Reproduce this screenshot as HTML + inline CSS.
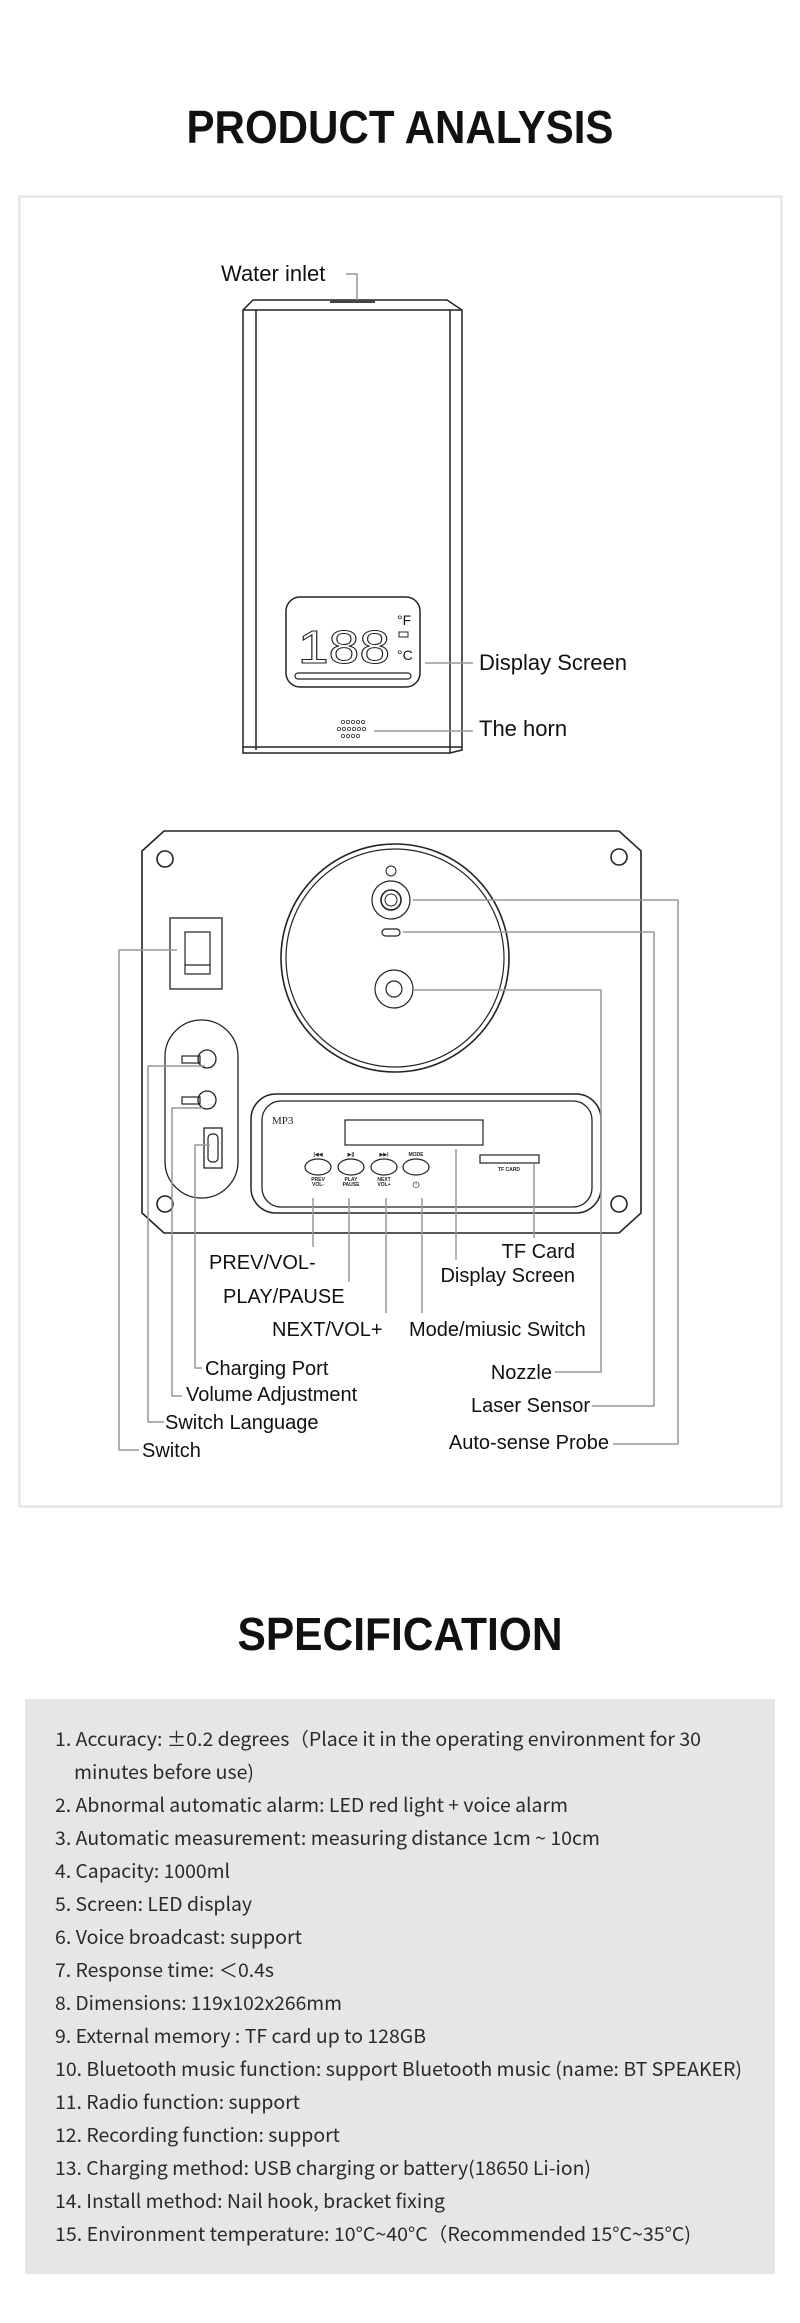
<!DOCTYPE html>
<html><head><meta charset="utf-8"><style>
html,body{margin:0;padding:0;background:#fff}
svg{display:block}
.l{font-family:"Liberation Sans",Arial,sans-serif;fill:#111}
.s{font-family:"Noto Sans CJK SC","Liberation Sans",sans-serif;fill:#2a2a2a;font-size:19px}
</style></head><body>
<svg width="800" height="2323" viewBox="0 0 800 2323" xmlns="http://www.w3.org/2000/svg">
<!-- Titles -->
<text class="l" x="400" y="143" text-anchor="middle" font-size="46" font-weight="bold" textLength="427" lengthAdjust="spacingAndGlyphs">PRODUCT ANALYSIS</text>
<rect x="19.5" y="196.5" width="762" height="1310" fill="none" stroke="#e2e2e2" stroke-width="2"/>

<!-- Top device -->
<g fill="none" stroke="#222" stroke-width="1.5">
<path d="M243 310 L253 300 L447 300 L462 310 L462 750 L450 753 L243 753 Z"/>
<line x1="243" y1="310" x2="462" y2="310"/>
<line x1="256" y1="310" x2="256" y2="750"/>
<line x1="450" y1="310" x2="450" y2="753"/>
<line x1="243" y1="747" x2="462" y2="747"/>
<rect x="286" y="597" width="134" height="90" rx="14"/>
<rect x="295" y="673" width="116" height="6" rx="3" stroke-width="1.2"/>
</g>
<rect x="330" y="300" width="45" height="3" fill="#444"/>
<g font-family="Liberation Sans" font-size="46" fill="none" stroke="#222" stroke-width="1">
<text x="298" y="663" textLength="92" lengthAdjust="spacingAndGlyphs">188</text>
</g>
<text class="l" x="397" y="625" font-size="14">°F</text>
<text class="l" x="397" y="660" font-size="14">°C</text>
<rect x="399" y="632" width="9" height="5" fill="none" stroke="#222"/>
<g fill="none" stroke="#333" stroke-width="0.8">
<circle cx="343" cy="722" r="1.6"/><circle cx="348" cy="722" r="1.6"/><circle cx="353" cy="722" r="1.6"/><circle cx="358" cy="722" r="1.6"/><circle cx="363" cy="722" r="1.6"/>
<circle cx="339" cy="729" r="1.6"/><circle cx="344" cy="729" r="1.6"/><circle cx="349" cy="729" r="1.6"/><circle cx="354" cy="729" r="1.6"/><circle cx="359" cy="729" r="1.6"/><circle cx="364" cy="729" r="1.6"/>
<circle cx="343" cy="736" r="1.6"/><circle cx="348" cy="736" r="1.6"/><circle cx="353" cy="736" r="1.6"/><circle cx="358" cy="736" r="1.6"/>
</g>
<g fill="none" stroke="#999" stroke-width="1.5">
<path d="M346 274 H357 V300"/>
<line x1="425" y1="663" x2="473" y2="663"/>
<line x1="374" y1="731" x2="473" y2="731"/>
</g>
<text class="l" x="221" y="281" font-size="22">Water inlet</text>
<text class="l" x="479" y="670" font-size="22">Display Screen</text>
<text class="l" x="479" y="736" font-size="22">The horn</text>

<!-- Plate -->
<g fill="none" stroke="#222" stroke-width="1.6">
<path d="M164 831 L619 831 L641 851 L641 1213 L619 1233 L164 1233 L142 1213 L142 851 Z"/>
<circle cx="165" cy="859" r="8"/><circle cx="619" cy="857" r="8"/>
<circle cx="165" cy="1204" r="8"/><circle cx="619" cy="1204" r="8"/>
<circle cx="395" cy="958" r="114"/><circle cx="395" cy="958" r="109" stroke-width="1.2"/>
<circle cx="391" cy="871" r="5" stroke-width="1"/>
<circle cx="391" cy="900" r="19" stroke-width="1.2"/><circle cx="391" cy="900" r="10"/><circle cx="391" cy="900" r="6" stroke-width="1"/>
<rect x="382" y="929" width="18" height="7" rx="3.5" stroke-width="1.2"/>
<circle cx="394" cy="989" r="19" stroke-width="1.2"/><circle cx="394" cy="989" r="8" stroke-width="1.2"/>
<rect x="170" y="918" width="52" height="71" stroke-width="1.3"/>
<rect x="185" y="932" width="25" height="42" stroke-width="1.2"/>
<line x1="185" y1="965" x2="210" y2="965" stroke-width="1.2"/>
<rect x="165" y="1020" width="73" height="178" rx="36.5" stroke-width="1.3"/>
<rect x="182" y="1056" width="18" height="7" stroke-width="1.2"/><circle cx="207" cy="1059" r="9" stroke-width="1.3"/>
<rect x="182" y="1097" width="18" height="7" stroke-width="1.2"/><circle cx="207" cy="1100" r="9" stroke-width="1.3"/>
<rect x="204" y="1128" width="18" height="40" stroke-width="1.3"/>
<rect x="208" y="1134" width="10" height="28" rx="4" stroke-width="1.2"/>
<rect x="251" y="1094" width="350" height="119" rx="25" stroke-width="1.5"/>
<rect x="262" y="1101" width="330" height="106" rx="19" stroke-width="1.3"/>
<rect x="345" y="1120" width="138" height="25" stroke-width="1.2"/>
<ellipse cx="318" cy="1167" rx="13" ry="8" stroke-width="1.2"/>
<ellipse cx="351" cy="1167" rx="13" ry="8" stroke-width="1.2"/>
<ellipse cx="384" cy="1167" rx="13" ry="8" stroke-width="1.2"/>
<ellipse cx="416" cy="1167" rx="13" ry="8" stroke-width="1.2"/>
<rect x="480" y="1155" width="59" height="8" stroke-width="1.2"/>
</g>
<text x="272" y="1124" font-family="Liberation Serif" font-size="11" fill="#222">MP3</text>
<g font-family="Liberation Sans" font-size="5" font-weight="bold" fill="#222" text-anchor="middle">
<text x="318" y="1156">|◀◀</text><text x="351" y="1156">▶||</text><text x="384" y="1156">▶▶|</text><text x="416" y="1156">MODE</text>
<text x="318" y="1181">PREV</text><text x="318" y="1186">VOL-</text>
<text x="351" y="1181">PLAY</text><text x="351" y="1186">PAUSE</text>
<text x="384" y="1181">NEXT</text><text x="384" y="1186">VOL+</text>
<text x="509" y="1171">TF CARD</text>
</g>
<text x="416" y="1188" font-family="DejaVu Sans" font-size="9" fill="#222" text-anchor="middle">⏻</text>

<g fill="none" stroke="#999" stroke-width="1.5">
<line x1="313" y1="1198" x2="313" y2="1247"/>
<line x1="349" y1="1198" x2="349" y2="1282"/>
<line x1="386" y1="1198" x2="386" y2="1313"/>
<line x1="422" y1="1198" x2="422" y2="1313"/>
<line x1="456" y1="1149" x2="456" y2="1260"/>
<line x1="534" y1="1164" x2="534" y2="1238"/>
<path d="M413 990 H601 V1372 H555"/>
<path d="M403 932 H654 V1406 H592"/>
<path d="M413 900 H678 V1444 H613"/>
<path d="M177 950 H119 V1450 H139"/>
<path d="M205 1066 H148 V1422 H164"/>
<path d="M203 1108 H172 V1396 H182"/>
<path d="M210 1145 H195 V1368 H202"/>
</g>
<g class="l" font-size="20">
<text x="209" y="1269">PREV/VOL-</text>
<text x="223" y="1303">PLAY/PAUSE</text>
<text x="272" y="1336">NEXT/VOL+</text>
<text x="409" y="1336">Mode/miusic Switch</text>
<text x="575" y="1258" text-anchor="end">TF Card</text>
<text x="575" y="1282" text-anchor="end">Display Screen</text>
<text x="205" y="1375">Charging Port</text>
<text x="186" y="1401">Volume Adjustment</text>
<text x="165" y="1429">Switch Language</text>
<text x="142" y="1457">Switch</text>
<text x="552" y="1379" text-anchor="end">Nozzle</text>
<text x="590" y="1412" text-anchor="end">Laser Sensor</text>
<text x="609" y="1449" text-anchor="end">Auto-sense Probe</text>
</g>

<!-- Specification -->
<text class="l" x="400" y="1650" text-anchor="middle" font-size="46" font-weight="bold" textLength="325" lengthAdjust="spacingAndGlyphs">SPECIFICATION</text>
<rect x="25" y="1699" width="750" height="575" fill="#e6e6e6"/>
<g class="s">
<text x="55" y="1746" textLength="646" lengthAdjust="spacingAndGlyphs">1. Accuracy: ±0.2 degrees（Place it in the operating environment for 30</text>
<text x="74" y="1779" textLength="180" lengthAdjust="spacingAndGlyphs">minutes before use)</text>
<text x="55" y="1812" textLength="513" lengthAdjust="spacingAndGlyphs">2. Abnormal automatic alarm: LED red light + voice alarm</text>
<text x="55" y="1845" textLength="545" lengthAdjust="spacingAndGlyphs">3. Automatic measurement: measuring distance 1cm ~ 10cm</text>
<text x="55" y="1878" textLength="175" lengthAdjust="spacingAndGlyphs">4. Capacity: 1000ml</text>
<text x="55" y="1911" textLength="197" lengthAdjust="spacingAndGlyphs">5. Screen: LED display</text>
<text x="55" y="1944" textLength="247" lengthAdjust="spacingAndGlyphs">6. Voice broadcast: support</text>
<text x="55" y="1977" textLength="219" lengthAdjust="spacingAndGlyphs">7. Response time: ＜0.4s</text>
<text x="55" y="2010" textLength="287" lengthAdjust="spacingAndGlyphs">8. Dimensions: 119x102x266mm</text>
<text x="55" y="2043" textLength="371" lengthAdjust="spacingAndGlyphs">9. External memory : TF card up to 128GB</text>
<text x="55" y="2076" textLength="687" lengthAdjust="spacingAndGlyphs">10. Bluetooth music function: support Bluetooth music (name: BT SPEAKER)</text>
<text x="55" y="2109" textLength="245" lengthAdjust="spacingAndGlyphs">11. Radio function: support</text>
<text x="55" y="2142" textLength="285" lengthAdjust="spacingAndGlyphs">12. Recording function: support</text>
<text x="55" y="2175" textLength="536" lengthAdjust="spacingAndGlyphs">13. Charging method: USB charging or battery(18650 Li-ion)</text>
<text x="55" y="2208" textLength="390" lengthAdjust="spacingAndGlyphs">14. Install method: Nail hook, bracket fixing</text>
<text x="55" y="2241" textLength="636" lengthAdjust="spacingAndGlyphs">15. Environment temperature: 10°C~40°C（Recommended 15°C~35°C)</text>
</g>
</svg>
</body></html>
